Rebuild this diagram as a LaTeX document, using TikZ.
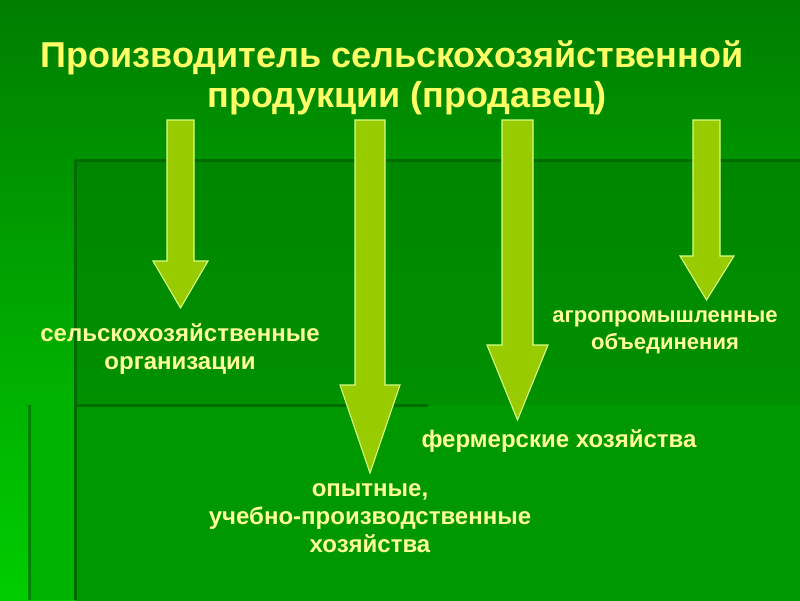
\documentclass[tikz,border=0pt]{standalone}
\usepackage{fontspec}
\setmainfont{Liberation Sans}
\definecolor{bgtop}{RGB}{0,126,0}
\definecolor{bgbot}{RGB}{0,205,0}
\definecolor{panela}{RGB}{0,134,0}
\definecolor{panelb}{RGB}{0,152,0}
\definecolor{stripc}{RGB}{0,178,0}
\definecolor{edgec}{RGB}{0,108,0}
\definecolor{arrowfill}{RGB}{153,204,0}
\definecolor{arrowedge}{RGB}{214,255,130}
\definecolor{titlec}{RGB}{255,255,102}
\definecolor{labelc}{RGB}{255,255,153}
\tikzset{
  arrowbody/.style={fill=arrowfill,draw=arrowedge,line width=1.1pt,line join=miter},
  edgeline/.style={draw=edgec,line width=3pt},
  titletext/.style={text=titlec,font=\bfseries\fontsize{36}{41}\selectfont,inner sep=0pt,anchor=base},
  labeltext/.style={text=labelc,font=\bfseries\fontsize{24}{28}\selectfont,align=center,inner sep=0pt},
  smalllabel/.style={labeltext,font=\bfseries\fontsize{22}{27}\selectfont}
}
\newcommand\greenarrow[9]{%
  \path[arrowbody] (#1,#3) -- (#2,#3) -- (#2,#4) -- (#6,#4) -- (#7,#8) -- (#5,#4) -- (#1,#4) -- cycle;
  \coordinate (#9) at (#7,#8);}
\begin{document}
\begin{tikzpicture}[x=1pt,y=-1pt]
\useasboundingbox (0,0) rectangle (800,600);
% background
\shade[top color=bgtop,bottom color=bgbot] (0,0) rectangle (800,600);
\shade[top color=panela,bottom color=panelb] (75,160) rectangle (800,600);
\fill[stripc] (28,405) rectangle (75,600);
\fill[panelb] (75,405) rectangle (800,600);
\draw[edgeline] (75,160) -- (800,160);
\draw[edgeline] (75,160) -- (75,600);
\draw[edgeline] (75,405) -- (428,405);
\draw[draw=edgec!70!stripc,line width=3pt] (29,405) -- (29,600);
% title
\node[titletext] (title1) at (392,67) {Производитель сельскохозяйственной};
\node[titletext] (title2) at (407,107) {продукции (продавец)};
% arrows
\greenarrow{167}{194}{120}{261}{153}{208}{180.5}{308}{tipa}
\greenarrow{355}{385}{120}{385}{340}{400}{370}{473}{tipb}
\greenarrow{502}{533}{120}{345}{487}{548}{517.5}{420}{tipc}
\greenarrow{693}{720}{120}{256}{680}{734}{706.5}{300}{tipd}
% labels
\node[labeltext] (orgs) at (180,349) {сельскохозяйственные\\организации};
\node[smalllabel] (agro) at (665,332) {агропромышленные\\объединения};
\node[labeltext] (farm) at (559,441) {фермерские хозяйства};
\node[labeltext] (exper) at (370,518) {опытные,\\учебно-производственные\\хозяйства};
\end{tikzpicture}
\end{document}
